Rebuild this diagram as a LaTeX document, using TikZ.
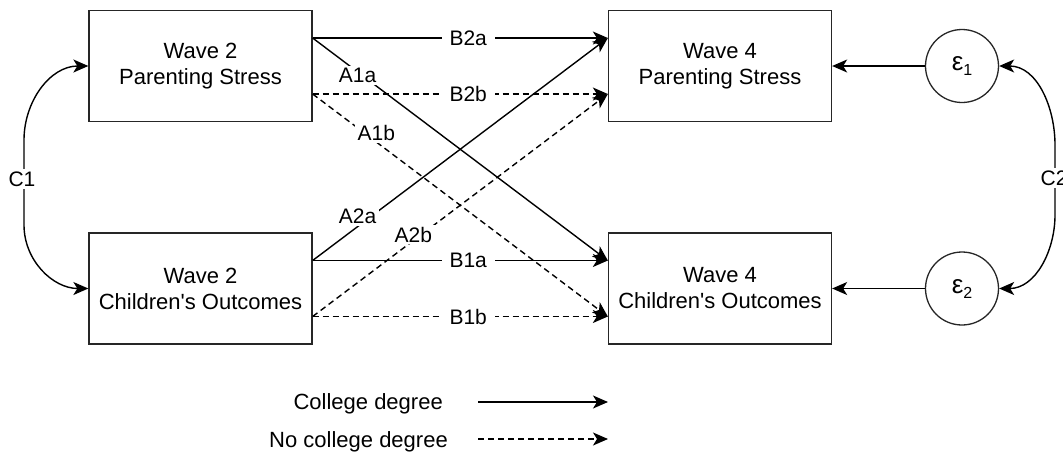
\documentclass[tikz,border=0pt]{standalone}
\usepackage{fontspec}
\setmainfont{Liberation Sans}[Ligatures=TeXOff]
\usetikzlibrary{arrows.meta}
\begin{document}
\begin{tikzpicture}[x=1pt,y=-1pt,
  every node/.style={font=\fontsize{22}{26}\selectfont},
  box/.style={draw=black!85, line width=1.3pt, minimum width=223pt, minimum height=111pt, align=center, inner sep=0pt},
  err/.style={draw=black!85, line width=1.3pt, circle, minimum size=73pt, inner sep=0pt},
  tip/.tip={Stealth[length=15pt,width=13pt,inset=4pt]},
  conn/.style={line width=1.4pt, -tip},
  nocol/.style={conn, dash pattern=on 6pt off 4pt},
  bi/.style={line width=1.4pt, tip-tip},
  lab/.style={fill=white, inner xsep=8pt, inner ysep=2pt, font=\fontsize{21}{24}\selectfont},
  clab/.style={fill=white, inner xsep=1pt, inner ysep=3pt, font=\fontsize{21}{24}\selectfont},
  leg/.style={anchor=base east, inner sep=0pt}
]
\fill[white] (0,0) rectangle (1063,459);
\useasboundingbox (0,0) rectangle (1063,459);

% boxes
\node[box] (PS2) at (200.5,66) {Wave 2\\Parenting Stress};
\node[box] (CO2) at (200.5,288.5) {Wave 2\\Children's Outcomes};
\node[box] (PS4) at (720,66) {Wave 4\\Parenting Stress};
\node[box] (CO4) at (720,288.5) {Wave 4\\Children's Outcomes};
\node[err] (E1) at (962,66) {\fontsize{26}{26}\selectfont ε\raisebox{-5pt}{\fontsize{16}{16}\selectfont 1}};
\node[err] (E2) at (962,288.5) {\fontsize{26}{26}\selectfont ε\raisebox{-5pt}{\fontsize{16}{16}\selectfont 2}};

% anchor points
\coordinate (PS2a) at ([yshift=28pt]PS2.east);
\coordinate (PS2b) at ([yshift=-28pt]PS2.east);
\coordinate (CO2a) at ([yshift=28pt]CO2.east);
\coordinate (CO2b) at ([yshift=-28pt]CO2.east);
\coordinate (PS4a) at ([yshift=28pt]PS4.west);
\coordinate (PS4b) at ([yshift=-28pt]PS4.west);
\coordinate (CO4a) at ([yshift=28pt]CO4.west);
\coordinate (CO4b) at ([yshift=-28pt]CO4.west);

% paths
\draw[conn] (PS2a) -- node[lab,pos=.527]{B2a} (PS4a);
\draw[nocol] (PS2b) -- node[lab,pos=.527]{B2b} (PS4b);
\draw[conn] (CO2a) -- node[lab,pos=.527]{B1a} (CO4a);
\draw[nocol] (CO2b) -- node[lab,pos=.527]{B1b} (CO4b);
\draw[conn] (PS2a) -- (CO4a);
\draw[nocol] (PS2b) -- (CO4b);
\draw[conn] (CO2a) -- (PS4a);
\draw[nocol] (CO2b) -- (PS4b);
\path (PS2a) -- node[lab,inner xsep=3pt,pos=.152,yshift=-4pt]{A1a} (CO4a);
\path (PS2b) -- node[lab,inner xsep=3pt,pos=.216,yshift=9pt]{A1b} (CO4b);
\path (CO2a) -- node[lab,inner xsep=3pt,pos=.152,yshift=10pt]{A2a} (PS4a);
\path (CO2b) -- node[lab,inner xsep=3pt,pos=.341,yshift=6pt]{A2b} (PS4b);

% residuals
\draw[conn] (E1) -- (PS4);
\draw[conn] (E2) -- (CO4);

% covariances
\coordinate (c1a) at (24,140);
\coordinate (c1b) at (24,225);
\draw[bi] (PS2.west) to[out=180,in=90] (c1a) -- (c1b) to[out=-90,in=180] (CO2.west);
\node[clab] (C1) at (22,179) {C1};
\coordinate (c2a) at (1055,145);
\coordinate (c2b) at (1055,215);
\draw[bi] (E1.east) to[out=0,in=90] (c2a) -- (c2b) to[out=-90,in=0] (E2.east);
\node[clab] (C2) at (1054,178) {C2};

% legend
\node[leg] (L1) at (443,409) {College degree};
\node[leg] (L2) at (448,447) {No college degree};
\coordinate (l1s) at (478,402);
\coordinate (l1e) at (608,402);
\coordinate (l2s) at (478,439);
\coordinate (l2e) at (608,439);
\draw[conn] (l1s) -- (l1e);
\draw[nocol] (l2s) -- (l2e);
\end{tikzpicture}
\end{document}
